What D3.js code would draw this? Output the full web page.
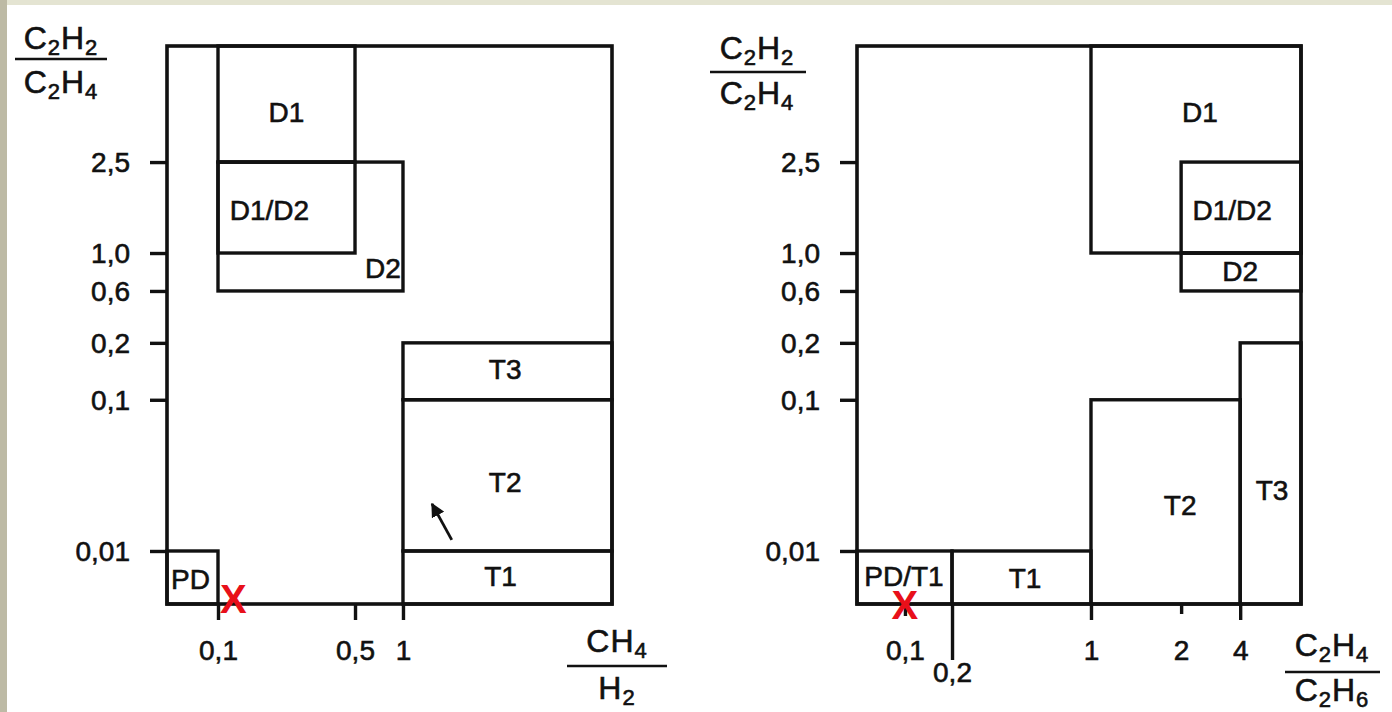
<!DOCTYPE html>
<html><head><meta charset="utf-8">
<script src="https://cdn.jsdelivr.net/npm/d3@7"></script>
<style>
body{margin:0;background:#fff;overflow:hidden}
text{font-family:"Liberation Sans",Arial,sans-serif;fill:#111}
.ink{stroke:#111;stroke-width:0.6px}
</style>
</head><body><svg id="c" width="1392" height="712"></svg>
<script>
// ---------------- DATA ----------------
const yTickValues = [0.01, 0.1, 0.2, 0.6, 1.0, 2.5];
const yTickLabels = ["0,01", "0,1", "0,2", "0,6", "1,0", "2,5"];
const yDomainStops = [0.001, 0.01, 0.1, 0.2, 0.6, 1.0, 2.5, 10];

const leftXTickValues = [0.1, 0.5, 1];
const leftXTickLabels = ["0,1", "0,5", "1"];
const leftXDomainStops = [0.05, 0.1, 0.5, 1, 10];

const rightXTickValues = [0.1, 0.2, 1, 2, 4];
const rightXTickLabels = ["0,1", "0,2", "1", "2", "4"];
const rightXDomainStops = [0.05, 0.1, 0.2, 1, 2, 4, 10];

// zone rectangles: [x0, x1, y0, y1] in ratio units
const leftZones = [
  [0.05, 0.1, 0.001, 0.01],
  [0.1, 0.5, 2.5, 10],
  [0.1, 0.5, 1.0, 2.5],
  [0.1, 1, 0.6, 2.5],
  [1, 10, 0.1, 0.2],
  [1, 10, 0.01, 0.1],
  [1, 10, 0.001, 0.01]
];
const leftZoneNames = ["PD", "D1", "D1/D2", "D2", "T3", "T2", "T1"];
const leftNameX = [0.073, 0.30, 0.25, 0.79, 5.4, 5.4, 5.2];
const leftNameY = [0.0052, 5.7, 1.7, 0.84, 0.153, 0.051, 0.0056];

const rightZones = [
  [1, 10, 1.0, 10],
  [2, 10, 1.0, 2.5],
  [2, 10, 0.6, 1.0],
  [4, 10, 0.001, 0.2],
  [1, 4, 0.001, 0.1],
  [0.2, 1, 0.001, 0.01],
  [0.05, 0.2, 0.001, 0.01]
];
const rightZoneNames = ["D1", "D1/D2", "D2", "T3", "T2", "T1", "PD/T1"];
const rightNameX = [2.64, 3.73, 4.0, 7.15, 1.99, 0.62, 0.099];
const rightNameY = [5.7, 1.7, 0.81, 0.046, 0.037, 0.0054, 0.0056];

const leftMarkX = [0.145], leftMarkY = [0.0019];
const rightMarkX = [0.1], rightMarkY = [0.0009];

const arrowFromX = [3.1], arrowFromY = [0.0166];
const arrowToX = [2.25], arrowToY = [0.038];

// ---------------- LAYOUT ----------------
const svg = d3.select("#c");
const plotTop = 46, plotBottom = 604, H = plotBottom - plotTop;
const yFrac = [0, 0.095, 0.366, 0.468, 0.561, 0.629, 0.792, 1];
const leftPanel = {x: 167, w: 445, frac: [0, 0.1146, 0.4225, 0.5303, 1]};
const rightPanel = {x: 857, w: 444, frac: [0, 0.108, 0.214, 0.527, 0.730, 0.863, 1]};
const FS = 28;

svg.append("rect").attr("x", 0).attr("y", 0).attr("width", 1392).attr("height", 712).attr("fill", "#fff");
svg.append("rect").attr("x", 0).attr("y", 0).attr("width", 1392).attr("height", 5).attr("fill", "#e4e4d2");
svg.append("rect").attr("x", 0).attr("y", 0).attr("width", 7).attr("height", 712).attr("fill", "#bdbaa5");

const defs = svg.append("defs");
defs.append("marker").attr("id", "ah").attr("viewBox", "0 0 10 10").attr("refX", 9).attr("refY", 5)
  .attr("markerWidth", 5).attr("markerHeight", 5).attr("orient", "auto")
  .append("path").attr("d", "M0,0 L10,5 L0,10 z").attr("fill", "#111");

const y = d3.scaleLinear().domain(yDomainStops).range(yFrac.map(f => plotBottom - f * H));

function drawPanel(p, xStops, xTicks, xLabels, zones, names, nx, ny, mx, my, tickLens) {
  const x = d3.scaleLinear().domain(xStops).range(p.frac.map(f => p.x + f * p.w));
  const g = svg.append("g");
  g.selectAll("rect.z").data(zones).join("rect").attr("class", "z")
    .attr("x", d => x(d[0])).attr("y", d => y(d[3]))
    .attr("width", d => x(d[1]) - x(d[0])).attr("height", d => y(d[2]) - y(d[3]))
    .attr("fill", "none").attr("stroke", "#111").attr("stroke-width", 3.4);
  g.append("rect").attr("x", p.x).attr("y", plotTop).attr("width", p.w).attr("height", H)
    .attr("fill", "none").attr("stroke", "#111").attr("stroke-width", 3.6);
  const ya = g.append("g").attr("transform", `translate(${p.x},0)`)
    .call(d3.axisLeft(y).tickValues(yTickValues).tickFormat((d, i) => yTickLabels[i]).tickSize(17).tickPadding(20));
  ya.select(".domain").remove();
  ya.selectAll("line").attr("stroke", "#111").attr("stroke-width", 3.4);
  ya.selectAll("text").attr("font-size", FS).attr("fill", "#111").attr("dy", "0.34em").attr("class", "ink")
    .style("font-family", "'Liberation Sans', Arial, sans-serif");
  const xa = g.append("g").attr("transform", `translate(0,${plotBottom})`)
    .call(d3.axisBottom(x).tickValues(xTicks).tickFormat((d, i) => xLabels[i]).tickSize(16).tickPadding(20));
  xa.select(".domain").remove();
  xa.selectAll(".tick").each(function(d, i) {
    const t = d3.select(this);
    t.select("line").attr("stroke", "#111").attr("stroke-width", 3.4).attr("y2", tickLens[i][0]);
    t.select("text").attr("y", tickLens[i][1]).attr("font-size", FS).attr("fill", "#111").attr("class", "ink")
      .style("font-family", "'Liberation Sans', Arial, sans-serif");
  });
  g.selectAll("text.n").data(names).join("text").attr("class", "n ink")
    .attr("x", (d, i) => x(nx[i])).attr("y", (d, i) => y(ny[i]))
    .attr("text-anchor", "middle").attr("dominant-baseline", "central")
    .attr("font-size", FS).text(d => d);
  g.selectAll("text.m").data(mx).join("text").attr("class", "m")
    .attr("x", d => x(d)).attr("y", (d, i) => y(my[i]))
    .attr("text-anchor", "middle").attr("dominant-baseline", "central")
    .attr("font-size", 40).attr("font-weight", "bold").style("fill", "#e8101a").text("X");
  return x;
}

const xl = drawPanel(leftPanel, leftXDomainStops, leftXTickValues, leftXTickLabels,
  leftZones, leftZoneNames, leftNameX, leftNameY, leftMarkX, leftMarkY,
  [[16, 36], [16, 36], [16, 36]]);
const xr = drawPanel(rightPanel, rightXDomainStops, rightXTickValues, rightXTickLabels,
  rightZones, rightZoneNames, rightNameX, rightNameY, rightMarkX, rightMarkY,
  [[12, 36], [56, 58], [16, 36], [10, 36], [16, 36]]);

svg.selectAll("line.arr").data(arrowFromX).join("line").attr("class", "arr")
  .attr("x1", d => xl(d)).attr("y1", (d, i) => y(arrowFromY[i]))
  .attr("x2", (d, i) => xl(arrowToX[i])).attr("y2", (d, i) => y(arrowToY[i]))
  .attr("stroke", "#111").attr("stroke-width", 2.8).attr("marker-end", "url(#ah)");

function fraction(cx, yNum, yLine, yDen, x0, x1, num, den) {
  const g = svg.append("g");
  const part = (yy, parts) => {
    const t = g.append("text").attr("x", cx).attr("y", yy).attr("text-anchor", "middle")
      .attr("font-size", 32).attr("class", "ink").attr("letter-spacing", 1);
    let prevSub = false;
    parts.forEach(s => {
      const sub = /^\d+$/.test(s);
      const ts = t.append("tspan").text(s);
      if (sub) { ts.attr("font-size", 22).attr("dy", 6); }
      else if (prevSub) { ts.attr("dy", -6); }
      prevSub = sub;
    });
  };
  part(yNum, num);
  part(yDen, den);
  g.append("line").attr("x1", x0).attr("x2", x1).attr("y1", yLine).attr("y2", yLine)
    .attr("stroke", "#111").attr("stroke-width", 2.6);
}
fraction(61, 49, 59, 93, 15, 107, ["C", "2", "H", "2"], ["C", "2", "H", "4"]);
fraction(757, 59, 72, 104, 710, 806, ["C", "2", "H", "2"], ["C", "2", "H", "4"]);
fraction(617, 652, 666, 699, 567, 667, ["CH", "4"], ["H", "2"]);
fraction(1332, 656, 672, 701, 1285, 1380, ["C", "2", "H", "4"], ["C", "2", "H", "6"]);
</script>
</body></html>
